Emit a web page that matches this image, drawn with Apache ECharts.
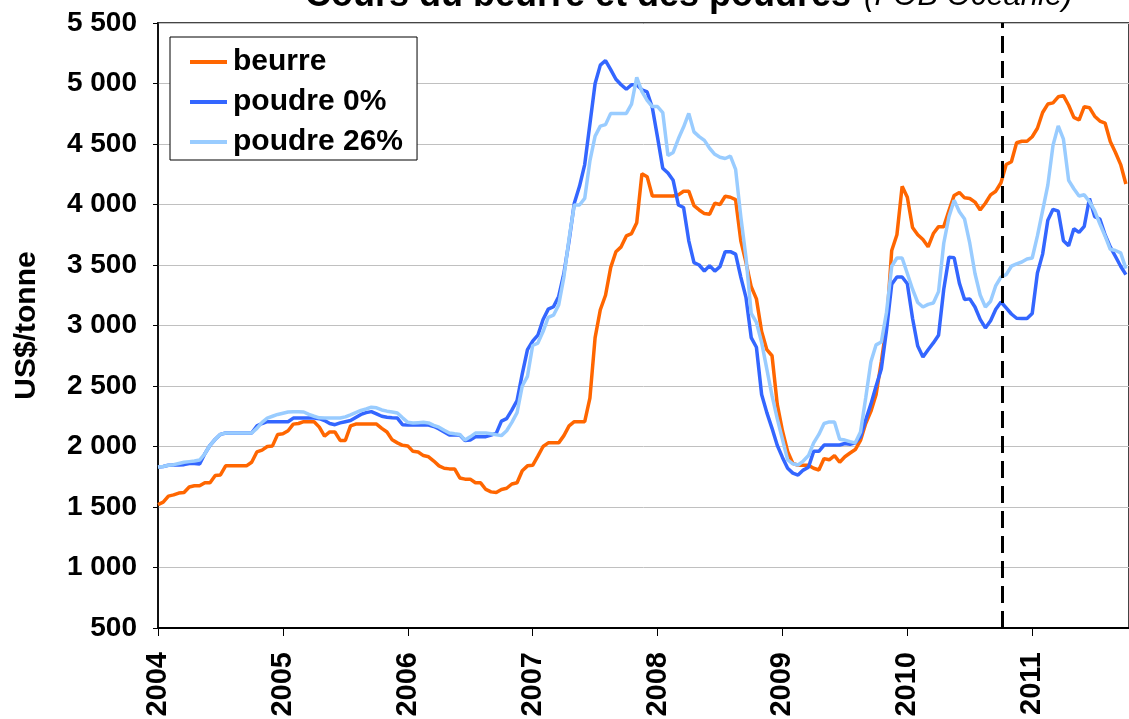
<!DOCTYPE html>
<html>
<head>
<meta charset="utf-8">
<script src="https://cdn.jsdelivr.net/npm/echarts@6/dist/echarts.min.js"></script>
<style>
  html, body { margin: 0; padding: 0; background: #fff; }
  #chart { width: 1129px; height: 719px; }
</style>
</head>
<body>
<div id="chart"></div>
<script>
// semi-monthly quotes, first point = Jan 2004
const startYear = 2004;
const perYear = 24;
const years = ['2004', '2005', '2006', '2007', '2008', '2009', '2010', '2011'];
const lastDate = 2011.775;
const markDate = 2010.757;

const beurre = [
  1520, 1540, 1590, 1600, 1615, 1620, 1665, 1675, 1675, 1700, 1700, 1760, 1765, 1840, 1840, 1840,
  1840, 1840, 1870, 1955, 1970, 2000, 2005, 2100, 2105, 2130, 2185, 2190, 2205, 2205, 2205, 2160,
  2085, 2120, 2120, 2050, 2050, 2170, 2185, 2185, 2185, 2185, 2185, 2150, 2120, 2055, 2030, 2010,
  2005, 1960, 1955, 1925, 1915, 1880, 1840, 1820, 1815, 1815, 1740, 1730, 1730, 1700, 1700, 1645,
  1625, 1620, 1645, 1655, 1690, 1700, 1800, 1840, 1845, 1920, 2000, 2030, 2030, 2030, 2090, 2170,
  2205, 2205, 2205, 2400, 2900, 3130, 3250, 3480, 3610, 3650, 3740, 3760, 3850, 4255, 4230, 4070,
  4070, 4070, 4070, 4070, 4080, 4110, 4110, 3990, 3955, 3925, 3920, 4010, 4000, 4068, 4060, 4040,
  3700, 3520, 3320, 3220, 2950, 2800, 2750, 2350, 2130, 1960, 1860, 1845, 1845, 1845, 1820, 1806,
  1900, 1890, 1925, 1870, 1915, 1946, 1975, 2050, 2190, 2290, 2430, 2700, 3000, 3620, 3750, 4150,
  4060, 3810, 3750, 3710, 3650, 3760, 3817, 3817, 3950, 4075, 4100, 4055, 4050, 4020, 3955, 4010,
  4080, 4110, 4180, 4330, 4354, 4510, 4523, 4523, 4560, 4630, 4760, 4830, 4840, 4890, 4900, 4820,
  4720, 4698, 4809, 4800, 4730, 4690, 4673, 4520, 4430, 4330, 4170
];

const poudre0 = [
  1830, 1835, 1845, 1847, 1847, 1850, 1860, 1860, 1855, 1940, 2010, 2060, 2100, 2111, 2111, 2111,
  2111, 2111, 2111, 2170, 2190, 2205, 2205, 2205, 2205, 2205, 2235, 2235, 2235, 2235, 2235, 2230,
  2215, 2190, 2180, 2195, 2205, 2215, 2240, 2265, 2280, 2288, 2270, 2250, 2242, 2238, 2235, 2180,
  2178, 2178, 2178, 2178, 2178, 2165, 2145, 2120, 2095, 2095, 2095, 2050, 2053, 2080, 2081, 2081,
  2095, 2108, 2210, 2230, 2300, 2380, 2600, 2800, 2870, 2920, 3050, 3135, 3155, 3240, 3430, 3700,
  4010, 4150, 4330, 4665, 5000, 5152, 5190, 5115, 5035, 4990, 4952, 4990, 4990, 4948, 4930, 4800,
  4555, 4300, 4260, 4200, 3996, 3975, 3700, 3520, 3500, 3450, 3495, 3450, 3486, 3610, 3610, 3590,
  3400, 3230, 2900, 2820, 2430, 2280, 2150, 2010, 1910, 1820, 1780, 1764, 1805, 1828, 1960, 1960,
  2012, 2012, 2012, 2012, 2025, 2018, 2030, 2080, 2220, 2350, 2500, 2640, 2960, 3340, 3401, 3401,
  3345, 3060, 2830, 2740, 2800, 2856, 2920, 3300, 3565, 3560, 3350, 3215, 3220, 3153, 3050, 2980,
  3040, 3135, 3194, 3145, 3095, 3060, 3057, 3057, 3099, 3434, 3590, 3870, 3960, 3945, 3700, 3660,
  3800, 3770, 3820, 4050, 3900, 3880, 3750, 3650, 3570, 3490, 3420
];

const poudre26 = [
  1830, 1835, 1845, 1850, 1860, 1870, 1875, 1880, 1888, 1940, 2010, 2060, 2100, 2111, 2111, 2111,
  2111, 2111, 2111, 2150, 2200, 2235, 2250, 2265, 2275, 2285, 2288, 2288, 2285, 2265, 2250, 2237,
  2235, 2235, 2235, 2235, 2245, 2262, 2280, 2298, 2310, 2325, 2320, 2302, 2292, 2285, 2277, 2237,
  2200, 2194, 2197, 2200, 2195, 2175, 2160, 2135, 2111, 2105, 2100, 2053, 2080, 2111, 2111, 2111,
  2105, 2097, 2090, 2130, 2200, 2280, 2500, 2580, 2835, 2855, 2950, 3068, 3085, 3170, 3400, 3720,
  3996, 3996, 4050, 4360, 4565, 4648, 4660, 4753, 4753, 4753, 4753, 4830, 5050, 4933, 4860, 4809,
  4809, 4760, 4405, 4430, 4543, 4640, 4753, 4600, 4561, 4530, 4465, 4415, 4390, 4380, 4400, 4290,
  3900, 3560, 3100, 3025, 2860, 2640, 2420, 2230, 2060, 1890, 1857, 1847, 1880, 1925, 2030, 2100,
  2190, 2203, 2203, 2060, 2053, 2040, 2030, 2120, 2400, 2700, 2840, 2864, 3110, 3490, 3558, 3558,
  3430, 3300, 3190, 3153, 3175, 3186, 3280, 3680, 3900, 4035, 3940, 3880, 3680, 3430, 3252, 3153,
  3200, 3330, 3401, 3420, 3490, 3510, 3525, 3550, 3558, 3740, 3950, 4160, 4490, 4650, 4540, 4200,
  4130, 4070, 4080, 4024, 3950, 3840, 3740, 3630, 3620, 3600, 3470
];

const seriesNames = ['beurre', 'poudre 0%', 'poudre 26%'];
const seriesColors = ['#ff6600', '#3366ff', '#99ccff'];

function pairs(values) {
  return values.map((v, i) => [startYear + i / perYear, v]);
}

function spaced(v) {
  if (v < 1000) return String(v);
  return Math.floor(v / 1000) + ' ' + String(v % 1000).padStart(3, '0');
}

const font = 'Arial, "Liberation Sans", sans-serif';

const chart = echarts.init(document.getElementById('chart'));

const series = [beurre, poudre0, poudre26].map((vals, i) => ({
  name: seriesNames[i],
  type: 'line',
  data: pairs(vals),
  showSymbol: false,
  symbol: 'none',
  color: seriesColors[i],
  lineStyle: { width: 3.5, color: seriesColors[i] },
  z: 2 + i
}));

series[0].markLine = {
  silent: true,
  symbol: 'none',
  label: { show: false },
  lineStyle: { color: '#000', width: 3, type: [17, 8] },
  data: [{ xAxis: markDate }]
};

let option = {
  animation: false,
  backgroundColor: '#fff',
  title: {
    left: 305,
    top: -22,
    padding: 0,
    text: '{b|Cours du beurre et des poudres} {i|(FOB Océanie)}',
    textStyle: {
      rich: {
        b: { fontFamily: font, fontWeight: 'bold', fontSize: 36, color: '#000' },
        i: { fontFamily: font, fontStyle: 'italic', fontWeight: 'normal', fontSize: 31, color: '#000', padding: [0, 0, 0, 8] }
      }
    }
  },
  legend: {
    left: 170,
    top: 37,
    orient: 'vertical',
    data: seriesNames,
    icon: 'rect',
    itemWidth: 37,
    itemHeight: 4,
    itemGap: 10,
    padding: [10, 14, 3, 20],
    borderColor: '#000',
    borderWidth: 1,
    backgroundColor: '#fff',
    textStyle: { fontFamily: font, fontWeight: 'bold', fontSize: 30, lineHeight: 28, color: '#000', padding: [0, 0, 0, 1] }
  },
  grid: {
    left: 158,
    right: 0,
    top: 23,
    bottom: 91,
    outerBoundsMode: 'none',
    show: true,
    borderColor: '#444',
    borderWidth: 2
  },
  xAxis: {
    type: 'value',
    min: startYear,
    max: lastDate,
    interval: 1,
    axisLine: { lineStyle: { color: '#000', width: 2 } },
    axisTick: { length: 8, lineStyle: { color: '#000', width: 1 } },
    splitLine: { show: false },
    axisLabel: {
      rotate: 90,
      margin: 24,
      fontFamily: font,
      fontWeight: 'bold',
      fontSize: 29,
      color: '#000',
      formatter: v => years[Math.round(v - startYear)] || ''
    }
  },
  yAxis: {
    type: 'value',
    min: 500,
    max: 5500,
    interval: 500,
    name: 'US$/tonne',
    nameLocation: 'middle',
    nameGap: 116,
    nameTextStyle: { fontFamily: font, fontWeight: 'bold', fontSize: 30, color: '#000' },
    axisLine: { show: true, lineStyle: { color: '#000', width: 1.5 } },
    axisTick: { show: true, length: 5, lineStyle: { color: '#000' } },
    splitLine: { lineStyle: { color: '#c0c0c0', width: 1 } },
    axisLabel: {
      margin: 21,
      fontFamily: font,
      fontWeight: 'bold',
      fontSize: 28,
      color: '#000',
      formatter: spaced
    }
  },
  series: series
};

chart.setOption(option);
</script>
</body>
</html>
